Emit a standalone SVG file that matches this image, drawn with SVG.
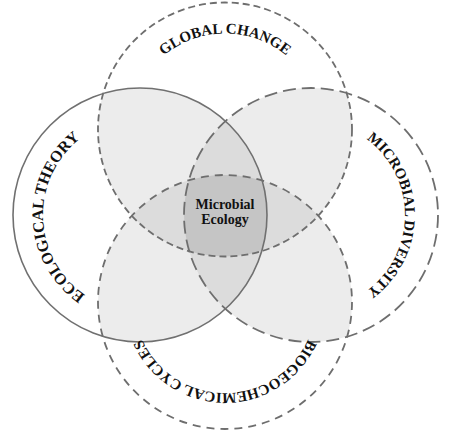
<svg xmlns="http://www.w3.org/2000/svg" xmlns:xlink="http://www.w3.org/1999/xlink" width="450" height="438" viewBox="0 0 450 438">
<style>
.ring{fill:none;stroke:#6e6e6e;stroke-width:1.8}
.solid{stroke:#707070;stroke-width:1.6}
.dT{stroke-dasharray:7 4}
.dR{stroke-dasharray:13 6}
.dB{stroke-dasharray:8 6}
.lbl{font-family:"Liberation Serif","Times New Roman",serif;font-weight:bold;fill:#111}
.f2{fill:#ececec}
.f3{fill:#dcdcdc}
.f4{fill:#c5c5c5}
</style>
<defs>
<clipPath id="cT"><circle cx="225" cy="129.5" r="127"/></clipPath>
<clipPath id="cB"><circle cx="225" cy="302" r="127"/></clipPath>
<clipPath id="cL"><circle cx="140" cy="215" r="127"/></clipPath>
<clipPath id="cR"><circle cx="311" cy="215" r="127"/></clipPath>
<path id="pT" d="M129,129.5 A96,96 0 0 1 321,129.5"/>
<path id="pL" d="M140,312 A97,97 0 0 1 140,118"/>
<path id="pR" d="M311,121 A94,94 0 0 1 311,309"/>
<path id="pB" d="M316,302 A91,91 0 0 1 134,302"/>
</defs>
<g id="overlaps">
<circle class="f2" cx="225" cy="129.5" r="127" clip-path="url(#cL)"/>
<circle class="f2" cx="225" cy="129.5" r="127" clip-path="url(#cR)"/>
<circle class="f2" cx="225" cy="302" r="127" clip-path="url(#cL)"/>
<circle class="f2" cx="225" cy="302" r="127" clip-path="url(#cR)"/>
<g clip-path="url(#cL)"><circle class="f3" cx="225" cy="129.5" r="127" clip-path="url(#cB)"/></g>
<g clip-path="url(#cR)"><circle class="f3" cx="225" cy="129.5" r="127" clip-path="url(#cB)"/></g>
<g clip-path="url(#cT)"><circle class="f3" cx="140" cy="215" r="127" clip-path="url(#cR)"/></g>
<g clip-path="url(#cB)"><circle class="f3" cx="140" cy="215" r="127" clip-path="url(#cR)"/></g>
<g clip-path="url(#cL)"><g clip-path="url(#cR)"><circle class="f4" cx="225" cy="129.5" r="127" clip-path="url(#cB)"/></g></g>
</g>
<g id="node-global-change">
<circle class="ring dT" cx="225" cy="129.5" r="127"/>
<text class="lbl" font-size="15" text-anchor="middle"><textPath xlink:href="#pT" href="#pT" startOffset="50%">GLOBAL CHANGE</textPath></text>
</g>
<g id="node-ecological-theory">
<circle class="ring solid" cx="140" cy="215" r="127"/>
<text class="lbl" font-size="16" text-anchor="middle"><textPath xlink:href="#pL" href="#pL" startOffset="49%">ECOLOGICAL THEORY</textPath></text>
</g>
<g id="node-microbial-diversity">
<circle class="ring dR" cx="311" cy="215" r="127"/>
<text class="lbl" font-size="15" text-anchor="middle"><textPath xlink:href="#pR" href="#pR" startOffset="50%">MICROBIAL DIVERSITY</textPath></text>
</g>
<g id="node-biogeochemical-cycles">
<circle class="ring dB" cx="225" cy="302" r="127"/>
<text class="lbl" font-size="15" text-anchor="middle"><textPath xlink:href="#pB" href="#pB" startOffset="50%">BIOGEOCHEMICAL CYCLES</textPath></text>
</g>
<g id="node-microbial-ecology">
<text class="lbl" font-size="14" text-anchor="middle" x="225" y="209">Microbial</text>
<text class="lbl" font-size="14" text-anchor="middle" x="225" y="224">Ecology</text>
</g>
</svg>
